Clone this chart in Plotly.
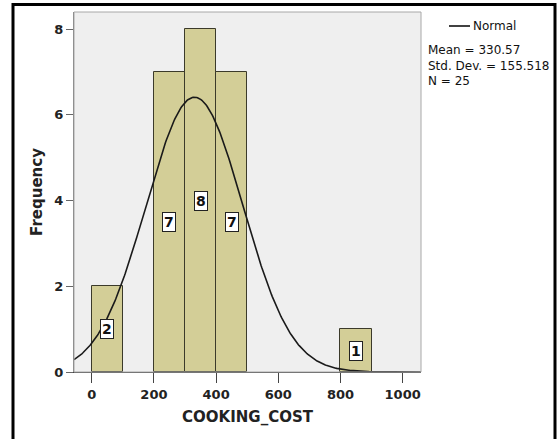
import numpy as np
import plotly.graph_objects as go

# Histogram of cooking cost (bin width 100)
bin_starts = [0, 100, 200, 300, 400, 500, 600, 700, 800, 900]
counts = [2, 0, 7, 8, 7, 0, 0, 0, 1, 0]
bin_width = 100

# Summary statistics shown next to the chart
mean_val = 330.57
std_val = 155.518
n_val = 25

x_ticks = [0, 200, 400, 600, 800, 1000]
y_ticks = [0, 2, 4, 6, 8]
x_range = [-57, 1059]
y_range = [0, 8.4]

# figure geometry (pixels)
W, H = 557, 439
ML, MR, MT, MB = 74, 136, 12, 67
PW, PH = W - ML - MR, H - MT - MB


def px_x(p):
    return (p - ML) / PW


def px_y(p):
    return 1 - (p - MT) / PH


bar_color = "#D3CE97"
edge_color = "#3b3a2a"
font_family = "DejaVu Sans"

centers = [s + bin_width / 2 for s, c in zip(bin_starts, counts) if c > 0]
heights = [c for c in counts if c > 0]

fig = go.Figure()
fig.add_trace(go.Bar(
    x=centers, y=heights, width=bin_width,
    marker=dict(color=bar_color, line=dict(color=edge_color, width=1)),
    hoverinfo="skip", showlegend=False,
))

# Normal curve scaled to counts
xs = np.linspace(x_range[0], x_range[1], 400)
ys = n_val * bin_width * np.exp(-0.5 * ((xs - mean_val) / std_val) ** 2) / (std_val * np.sqrt(2 * np.pi))
fig.add_trace(go.Scatter(
    x=xs, y=ys, mode="lines",
    line=dict(color="#1a1a1a", width=1.6),
    hoverinfo="skip", showlegend=False,
))

annotations = []
for cx, h in zip(centers, heights):
    annotations.append(dict(
        x=cx, y=h / 2, xref="x", yref="y", text=f"<b>{h}</b>", showarrow=False,
        font=dict(family=font_family, size=14, color="#111"),
        bgcolor="white", bordercolor="#222", borderwidth=1, borderpad=1,
    ))

# statistics block
annotations.append(dict(
    x=px_x(471), y=px_y(26), xref="paper", yref="paper", xanchor="left", yanchor="middle",
    text="Normal", showarrow=False, font=dict(family=font_family, size=12, color="#111"),
))
annotations.append(dict(
    x=px_x(426), y=px_y(41), xref="paper", yref="paper", xanchor="left", yanchor="top",
    text=f"Mean = {mean_val}<br>Std. Dev. = {std_val}<br>N = {n_val}",
    align="left", showarrow=False, font=dict(family=font_family, size=12, color="#111"),
))

shapes = [
    # plot frame
    dict(type="rect", xref="paper", yref="paper", x0=0, y0=0, x1=1, y1=1,
         line=dict(color="#a8a8a8", width=1), layer="above"),
    # legend line sample
    dict(type="line", xref="paper", yref="paper", x0=px_x(449), x1=px_x(470),
         y0=px_y(26), y1=px_y(26), line=dict(color="#111", width=1.6)),
    # outer border
    dict(type="rect", xref="paper", yref="paper", x0=px_x(13), x1=px_x(555),
         y0=px_y(4.5), y1=px_y(447), line=dict(color="black", width=3)),
]

fig.update_layout(
    width=W, height=H,
    margin=dict(l=ML, r=MR, t=MT, b=MB, pad=0),
    paper_bgcolor="white", plot_bgcolor="#EFEFEF",
    bargap=0, annotations=annotations, shapes=shapes,
    font=dict(family=font_family, color="#222"),
)
fig.update_xaxes(
    range=x_range, tickvals=x_ticks, ticks="outside", ticklen=10, tickcolor="#444",
    tickfont=dict(family=font_family, size=13, color="#222", weight="bold"),
    showgrid=False, zeroline=False, showline=True, linecolor="#444", linewidth=1,
    title=dict(text="<b>COOKING_COST</b>", font=dict(family=font_family, size=15, color="#222"), standoff=10),
)
fig.update_yaxes(
    range=y_range, tickvals=y_ticks, ticks="outside", ticklen=7, tickcolor="#666",
    tickfont=dict(family=font_family, size=13, color="#222", weight="bold"),
    showgrid=False, zeroline=False, showline=True, linecolor="#777", linewidth=1,
    title=dict(text="<b>Frequency</b>", font=dict(family=font_family, size=15, color="#222"), standoff=8),
)

fig.write_html("out.html")
